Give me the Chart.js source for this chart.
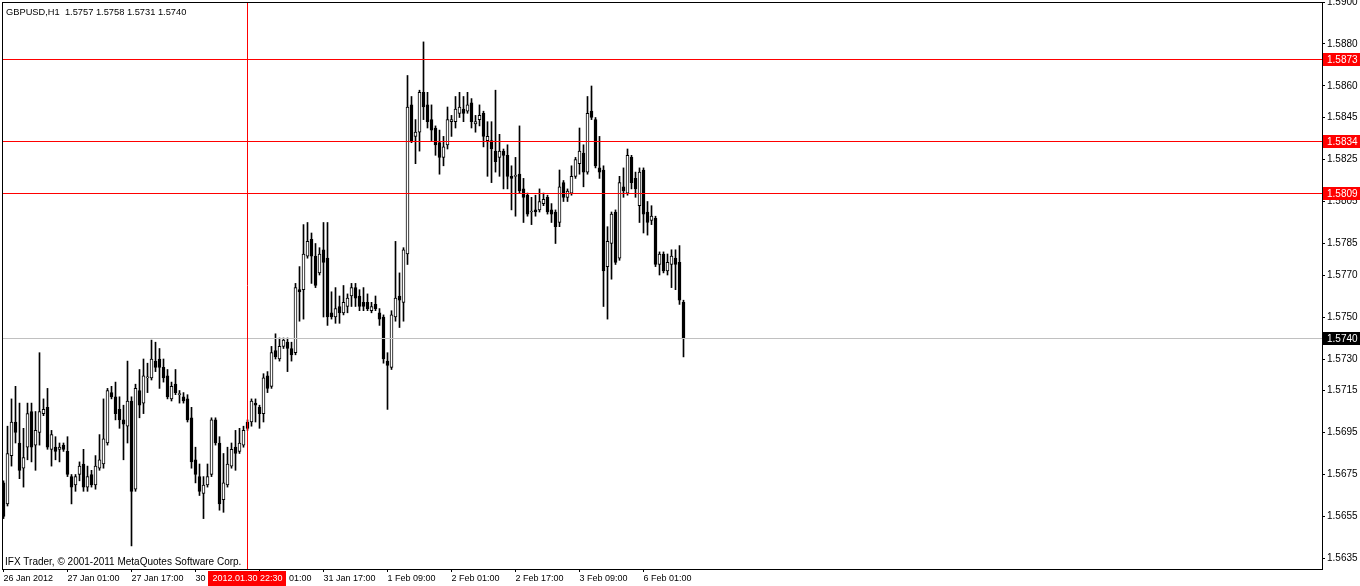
<!DOCTYPE html>
<html>
<head>
<meta charset="utf-8">
<script src="https://cdn.jsdelivr.net/npm/chart.js@4.4.1/dist/chart.umd.min.js"></script>
<style>
html,body{margin:0;padding:0;background:#fff;}
canvas{display:block;}
</style>
</head>
<body>
<canvas id="c" width="1360" height="586" style="width:1360px;height:586px"></canvas>
<script>
// ---------- data (GBPUSD, H1) ----------
const symbolTitle = 'GBPUSD,H1  1.5757 1.5758 1.5731 1.5740';
const copyrightText = 'IFX Trader, \u00a9 2001-2011 MetaQuotes Software Corp.';

const opens = [
1.5671,1.5661,1.5684,1.5700,1.5690,1.5678,1.5688,1.5705,1.5689,1.5695,
1.5704,1.5707,1.5687,1.5688,1.5687,1.5689,1.5686,1.5674,1.5670,1.5675,
1.5680,1.5669,1.5675,1.5670,1.5678,1.5680,1.5690,1.5714,1.5712,1.5706,
1.5701,1.5698,1.5710,1.5668,1.5715,1.5709,1.5721,1.5721,1.5729,1.5730,
1.5726,1.5722,1.5711,1.5718,1.5713,1.5712,1.5711,1.5702,1.5682,1.5674,
1.5666,1.5670,1.5675,1.5701,1.5690,1.5663,1.5670,1.5679,1.5688,1.5686,
1.5689,1.5700,1.5700,1.5709,1.5707,1.5704,1.5722,1.5717,1.5734,1.5730,
1.5736,1.5738,1.5735,1.5733,1.5763,1.5763,1.5779,1.5787,1.5779,1.5771,
1.5782,1.5778,1.5752,1.5750,1.5755,1.5752,1.5755,1.5760,1.5764,1.5760,
1.5757,1.5757,1.5753,1.5756,1.5752,1.5750,1.5729,1.5726,1.5750,1.5760,
1.5757,1.5780,1.5851,1.5836,1.5838,1.5857,1.5851,1.5844,1.5840,1.5833,
1.5826,1.5832,1.5843,1.5843,1.5847,1.5849,1.5848,1.5852,1.5842,1.5844,
1.5847,1.5834,1.5834,1.5829,1.5826,1.5829,1.5827,1.5817,1.5817,1.5818,
1.5811,1.5808,1.5800,1.5801,1.5801,1.5804,1.5807,1.5801,1.5800,1.5795,
1.5814,1.5807,1.5809,1.5817,1.5823,1.5828,1.5819,1.5848,1.5844,1.5821,
1.5820,1.5774,1.5785,1.5800,1.5778,1.5812,1.5809,1.5826,1.5816,1.5803,
1.5820,1.5800,1.5796,1.5797,1.5775,1.5780,1.5772,1.5775,1.5778,1.5776,
1.5757];
const highs = [
1.5672,1.5698,1.5711,1.5717,1.5709,1.5697,1.5709,1.5709,1.5705,1.5733,
1.5711,1.5716,1.5696,1.5693,1.5690,1.5690,1.5693,1.5675,1.5675,1.5681,
1.5687,1.5679,1.5677,1.5684,1.5694,1.5711,1.5716,1.5717,1.5719,1.5712,
1.5708,1.5729,1.5712,1.5718,1.5725,1.5730,1.5728,1.5739,1.5738,1.5735,
1.5730,1.5725,1.5719,1.5725,1.5715,1.5714,1.5713,1.5707,1.5688,1.5680,
1.5674,1.5680,1.5702,1.5702,1.5693,1.5685,1.5688,1.5690,1.5696,1.5697,
1.5698,1.5701,1.5711,1.5711,1.5708,1.5723,1.5724,1.5736,1.5742,1.5740,
1.5740,1.5740,1.5738,1.5766,1.5774,1.5794,1.5795,1.5790,1.5785,1.5783,
1.5795,1.5795,1.5762,1.5764,1.5760,1.5765,1.5761,1.5766,1.5766,1.5763,
1.5764,1.5761,1.5757,1.5760,1.5754,1.5751,1.5733,1.5753,1.5786,1.5771,
1.5783,1.5865,1.5855,1.5844,1.5858,1.5881,1.5857,1.5851,1.5841,1.5839,
1.5836,1.5850,1.5846,1.5855,1.5857,1.5855,1.5857,1.5854,1.5846,1.5851,
1.5848,1.5843,1.5843,1.5858,1.5837,1.5830,1.5832,1.5822,1.5826,1.5841,
1.5816,1.5809,1.5807,1.5808,1.5811,1.5809,1.5808,1.5804,1.5801,1.5820,
1.5815,1.5811,1.5822,1.5826,1.5840,1.5832,1.5855,1.5860,1.5845,1.5836,
1.5822,1.5793,1.5800,1.5801,1.5817,1.5821,1.5830,1.5827,1.5819,1.5821,
1.5821,1.5805,1.5803,1.5798,1.5781,1.5781,1.5780,1.5782,1.5782,1.5784,
1.5758];
const lows = [
1.5654,1.5660,1.5679,1.5690,1.5673,1.5669,1.5682,1.5681,1.5677,1.5689,
1.5703,1.5687,1.5679,1.5682,1.5681,1.5686,1.5674,1.5661,1.5667,1.5672,
1.5667,1.5667,1.5669,1.5668,1.5677,1.5678,1.5689,1.5711,1.5701,1.5697,
1.5682,1.5690,1.5641,1.5667,1.5702,1.5704,1.5714,1.5720,1.5724,1.5716,
1.5719,1.5711,1.5710,1.5713,1.5709,1.5709,1.5700,1.5678,1.5671,1.5665,
1.5654,1.5669,1.5674,1.5689,1.5658,1.5657,1.5669,1.5678,1.5677,1.5685,
1.5688,1.5696,1.5698,1.5700,1.5697,1.5700,1.5714,1.5716,1.5730,1.5729,
1.5735,1.5724,1.5729,1.5732,1.5748,1.5749,1.5778,1.5766,1.5764,1.5770,
1.5750,1.5746,1.5749,1.5747,1.5747,1.5751,1.5752,1.5755,1.5755,1.5753,
1.5753,1.5753,1.5752,1.5753,1.5746,1.5728,1.5706,1.5725,1.5748,1.5745,
1.5748,1.5775,1.5833,1.5823,1.5829,1.5844,1.5840,1.5834,1.5827,1.5818,
1.5822,1.5830,1.5836,1.5840,1.5845,1.5843,1.5847,1.5840,1.5838,1.5841,
1.5831,1.5817,1.5814,1.5819,1.5817,1.5811,1.5811,1.5801,1.5798,1.5809,
1.5795,1.5798,1.5794,1.5798,1.5800,1.5803,1.5799,1.5795,1.5785,1.5793,
1.5805,1.5805,1.5808,1.5816,1.5818,1.5812,1.5818,1.5844,1.5821,1.5816,
1.5755,1.5749,1.5768,1.5775,1.5777,1.5807,1.5808,1.5811,1.5807,1.5795,
1.5790,1.5789,1.5794,1.5774,1.5770,1.5771,1.5770,1.5764,1.5763,1.5756,
1.5731];
const closes = [
1.5655,1.5685,1.5700,1.5695,1.5677,1.5683,1.5704,1.5688,1.5696,1.5705,
1.5706,1.5688,1.5694,1.5686,1.5688,1.5687,1.5675,1.5669,1.5674,1.5679,
1.5669,1.5674,1.5670,1.5679,1.5682,1.5692,1.5715,1.5712,1.5704,1.5701,
1.5699,1.5710,1.5667,1.5716,1.5708,1.5722,1.5721,1.5730,1.5726,1.5726,
1.5721,1.5712,1.5717,1.5714,1.5713,1.5710,1.5701,1.5681,1.5675,1.5667,
1.5670,1.5674,1.5701,1.5690,1.5661,1.5671,1.5680,1.5687,1.5685,1.5690,
1.5696,1.5697,1.5710,1.5708,1.5704,1.5721,1.5716,1.5733,1.5731,1.5736,
1.5739,1.5735,1.5732,1.5764,1.5762,1.5780,1.5786,1.5779,1.5765,1.5780,
1.5776,1.5750,1.5750,1.5754,1.5752,1.5757,1.5759,1.5764,1.5759,1.5755,
1.5755,1.5754,1.5755,1.5754,1.5749,1.5730,1.5727,1.5751,1.5759,1.5758,
1.5782,1.5850,1.5834,1.5838,1.5857,1.5850,1.5843,1.5839,1.5832,1.5826,
1.5831,1.5844,1.5844,1.5849,1.5850,1.5847,1.5851,1.5843,1.5843,1.5846,
1.5836,1.5836,1.5830,1.5824,1.5829,1.5827,1.5817,1.5816,1.5817,1.5810,
1.5807,1.5799,1.5800,1.5800,1.5805,1.5806,1.5800,1.5799,1.5793,1.5812,
1.5807,1.5810,1.5817,1.5825,1.5829,1.5819,1.5847,1.5845,1.5822,1.5819,
1.5772,1.5786,1.5799,1.5776,1.5814,1.5810,1.5827,1.5814,1.5811,1.5819,
1.5799,1.5795,1.5798,1.5775,1.5780,1.5772,1.5776,1.5779,1.5775,1.5758,
1.5740];

// time axis labels, one every 16 hourly bars starting at bar 0
const timeLabels = ['26 Jan 2012','27 Jan 01:00','27 Jan 17:00','30 Jan 09:00','31 Jan 01:00',
  '31 Jan 17:00','1 Feb 09:00','2 Feb 01:00','2 Feb 17:00','3 Feb 09:00','6 Feb 01:00'];
const timeLabelStep = 16;

// price scale labels
const priceTicks = [1.5900,1.5880,1.5860,1.5845,1.5825,1.5805,1.5785,1.5770,1.5750,1.5730,1.5715,1.5695,1.5675,1.5655,1.5635];
const priceMin = 1.5630;
const priceMax = 1.5900;

// horizontal levels and markers
const redLevels = [1.5873, 1.5834, 1.5809];
const bidLevel = 1.5740;
const markerBar = 61;                 // bar of 2012.01.30 22:00
const markerLabel = '2012.01.30 22:30';
const visibleBars = 330;

// ---------- drawing ----------
const FONT = "'Liberation Sans', Arial, sans-serif";

const overlay = {
  id: 'mt4overlay',
  afterDatasetsDraw(chart) {
    const {ctx, chartArea: a, scales: {x, y}} = chart;
    ctx.save();
    ctx.lineWidth = 1;
    const hline = (p, col) => {
      const yy = Math.round(y.getPixelForValue(p)) + 0.5;
      ctx.strokeStyle = col;
      ctx.beginPath(); ctx.moveTo(a.left, yy); ctx.lineTo(a.right, yy); ctx.stroke();
    };
    hline(bidLevel, '#c0c0c0');
    redLevels.forEach(p => hline(p, '#ff0000'));
    const xv = Math.floor(x.getPixelForValue(markerBar)) + 0.5;
    ctx.strokeStyle = '#ff0000';
    ctx.beginPath(); ctx.moveTo(xv, a.top); ctx.lineTo(xv, a.bottom); ctx.stroke();
    ctx.restore();
  },
  afterDraw(chart) {
    const {ctx, chartArea: a, scales: {x, y}} = chart;
    ctx.save();
    // frame
    ctx.strokeStyle = '#000';
    ctx.lineWidth = 1;
    ctx.strokeRect(a.left + 0.5, a.top + 0.5, a.right - a.left, a.bottom - a.top);
    // texts
    ctx.fillStyle = '#000';
    ctx.textBaseline = 'alphabetic';
    ctx.textAlign = 'left';
    ctx.font = '9.3px ' + FONT;
    ctx.fillText(symbolTitle, 6, 15);
    ctx.font = '10px ' + FONT;
    ctx.fillText(copyrightText, 5, 565);
    // price tags
    ctx.textBaseline = 'middle';
    const tag = (p, bg) => {
      const yy = Math.round(y.getPixelForValue(p));
      ctx.fillStyle = bg;
      ctx.fillRect(a.right + 1, yy - 6, 1360 - a.right - 1, 13);
      ctx.fillStyle = '#fff';
      ctx.fillText(p.toFixed(4), a.right + 5, yy + 1);
    };
    redLevels.forEach(p => tag(p, '#ff0000'));
    tag(bidLevel, '#000000');
    // time marker tag
    ctx.font = '9px ' + FONT;
    const xv = Math.floor(x.getPixelForValue(markerBar)) + 0.5;
    const w = ctx.measureText(markerLabel).width + 8;
    ctx.fillStyle = '#ff0000';
    ctx.fillRect(Math.round(xv - w / 2), a.bottom + 2, Math.round(w), 15);
    ctx.fillStyle = '#fff';
    ctx.textAlign = 'center';
    ctx.fillText(markerLabel, xv, a.bottom + 10);
    ctx.restore();
  }
};

new Chart(document.getElementById('c'), {
  type: 'bar',
  data: {
    datasets: [
      {
        label: 'body',
        data: opens.map((o, i) => ({x: i, y: [o, closes[i]]})),
        backgroundColor: opens.map((o, i) => closes[i] >= o ? '#ffffff' : '#000000'),
        borderColor: '#000000',
        borderWidth: 1,
        borderSkipped: false,
        barThickness: 3,
        minBarLength: 1,
        grouped: false,
        order: 0
      },
      {
        label: 'wick',
        data: lows.map((l, i) => ({x: i, y: [l, highs[i]]})),
        backgroundColor: '#000000',
        borderWidth: 0,
        barThickness: 1,
        grouped: false,
        order: 1
      }
    ]
  },
  options: {
    responsive: false,
    animation: false,
    devicePixelRatio: 1,
    layout: {padding: {left: 2, top: 2, right: 0, bottom: 0}},
    plugins: {legend: {display: false}, tooltip: {enabled: false}},
    scales: {
      x: {
        type: 'linear',
        offset: false,
        min: -0.375,
        max: visibleBars - 0.375,
        afterBuildTicks: s => { s.ticks = timeLabels.map((_, k) => ({value: k * timeLabelStep})); },
        afterFit: s => { s.height = 17; s.paddingLeft = 0; s.paddingRight = 0; },
        ticks: {
          autoSkip: false, maxRotation: 0, minRotation: 0,
          align: 'start', labelOffset: 0, padding: 1,
          color: '#000', font: {family: FONT, size: 9},
          callback: v => timeLabels[Math.round(v / timeLabelStep)] ?? ''
        },
        grid: {drawOnChartArea: false, drawTicks: true, tickLength: 3, color: '#000', offset: false},
        border: {display: false}
      },
      y: {
        type: 'linear',
        position: 'right',
        min: priceMin,
        max: priceMax,
        afterBuildTicks: s => { s.ticks = priceTicks.map(v => ({value: v})); },
        afterFit: s => { s.width = 38; s.paddingTop = 0; s.paddingBottom = 0; },
        ticks: {
          autoSkip: false, padding: 2,
          color: '#000', font: {family: FONT, size: 10},
          callback: v => Number(v).toFixed(4)
        },
        grid: {drawOnChartArea: false, drawTicks: true, tickLength: 3, color: '#000'},
        border: {display: false}
      }
    }
  },
  plugins: [overlay]
});
</script>
</body>
</html>
